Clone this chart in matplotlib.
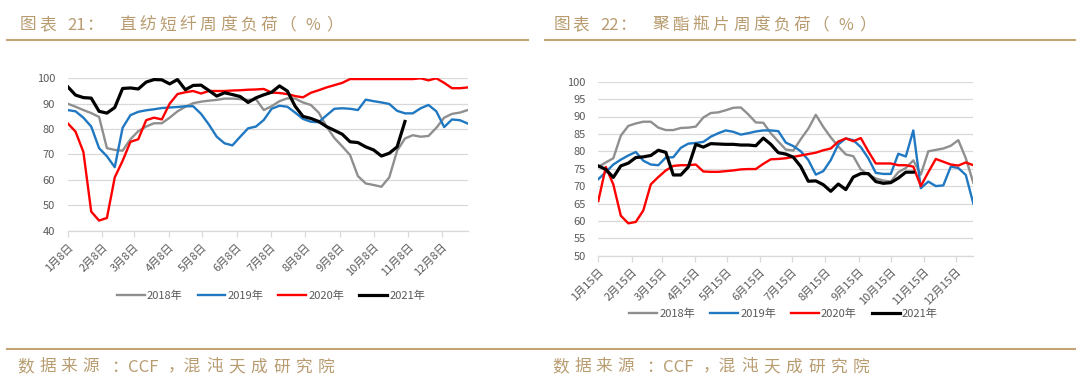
import numpy as np
import pandas as pd
import matplotlib
matplotlib.use('Agg')
import matplotlib.pyplot as plt

plt.rcParams['font.family'] = ['Noto Sans CJK SC', 'DejaVu Sans']

# ---------------- 数据 ----------------
# 图表21：直纺短纤周度负荷（周度，1月8日起）
dates_psf = pd.date_range('2021-01-08', periods=52, freq='7D')
psf_2018 = [90, 88.8, 87.5, 86.3, 84.8, 72.5, 71.8, 71.5, 76, 79.2,
            81, 82.3, 82.3, 84.5, 87, 88.8, 90.2, 90.8, 91.2, 91.5,
            92, 92, 91.8, 91.5, 91.8, 87.5, 89, 91, 92.1, 92,
            90.5, 89.5, 86.5, 81, 76.5, 73.2, 69.8, 61.5, 58.6, 58,
            57.3, 61, 71.5, 76.3, 77.6, 77, 77.3, 80.5, 84.5, 86,
            86.5, 87.5]
psf_2019 = [87.5, 87, 84.5, 81, 72.5, 69.3, 65, 80.5, 85.5, 86.8,
            87.4, 87.8, 88.3, 88.5, 88.7, 89, 89, 86, 81.8, 77,
            74.4, 73.6, 77, 80.3, 81, 83.6, 88, 89.2, 88.8, 86.5,
            84, 82.9, 82.7, 85.4, 88, 88.2, 88, 87.5, 91.6, 91,
            90.5, 89.9, 87.2, 86.2, 86.2, 88.2, 89.5, 87, 80.8, 83.8,
            83.5, 82.2]
psf_2020 = [82.3, 79, 71, 47.5, 44, 45, 61, 67.5, 75, 76,
            83.5, 84.5, 83.8, 90, 93.8, 94.5, 95, 94, 95, 95,
            95, 95.2, 95.3, 95.5, 95.6, 95.8, 94.4, 94.2, 93.8, 93,
            92.5, 94.3, 95.3, 96.4, 97.3, 98.2, 99.7, 99.7, 99.7, 99.7,
            99.7, 99.7, 99.7, 99.7, 99.7, 100, 99.2, 100, 98.2, 96.1,
            96.1, 96.4]
psf_2021 = [96.7, 93.4, 92.4, 92.2, 87, 86.3, 88.5, 96, 96.2, 95.8,
            98.5, 99.5, 99.4, 97.8, 99.5, 95.5, 97.2, 97.3, 95.2, 93,
            94.3, 93.6, 92.8, 90.5, 92.3, 93.5, 94.5, 97, 95, 89,
            85, 84.2, 83, 81, 79.5, 78, 75, 74.7, 73, 71.8,
            69.4, 70.5, 73, 83]
psf_ticks = [pd.Timestamp(2021, m, 8) for m in range(1, 13)]
psf_labels = [f'{m}月8日' for m in range(1, 13)]

# 图表22：聚酯瓶片周度负荷（周度，1月15日起）
dates_pet = pd.date_range('2021-01-15', periods=51, freq='7D')
pet_2018 = [75.5, 76.8, 78, 84.5, 87.3, 88, 88.5, 88.5, 86.8, 86.1,
            86.1, 86.7, 86.8, 87.1, 89.7, 91, 91.2, 91.8, 92.5, 92.6,
            90.6, 88.3, 88.2, 85.2, 82.8, 80.5, 80.2, 83.5, 86.5, 90.5,
            87, 84, 81.4, 79.1, 78.6, 74.8, 73.3, 72.2, 71.6, 71.3,
            74, 75.2, 77.4, 73.3, 80, 80.4, 80.8, 81.6, 83.2, 78,
            71]
pet_2019 = [72, 74, 76.2, 77.6, 78.8, 79.8, 77.3, 76.2, 76, 78.2,
            78.3, 81, 82.2, 82.4, 82.7, 84.2, 85.2, 86, 85.6, 84.8,
            85.2, 85.7, 86, 86, 85.8, 82.5, 81.5, 80, 77.5, 73.3,
            74.3, 77.5, 82, 83.7, 83.2, 81.2, 78, 73.8, 73.5, 73.5,
            79.3, 78.5, 86, 69.4, 71.3, 70, 70.2, 75.6, 75.2, 73.2,
            65]
pet_2020 = [65.7, 75.5, 70.5, 61.5, 59.3, 59.7, 63, 70.5, 72.6, 74.5,
            75.8, 76, 76, 76.2, 74.2, 74.1, 74.1, 74.3, 74.5, 74.8,
            74.9, 74.9, 76.4, 77.7, 77.8, 78, 78.4, 78.8, 79.2, 79.6,
            80.3, 80.8, 82.8, 83.7, 82.9, 83.8, 80, 76.5, 76.5, 76.5,
            76, 76, 75.6, 70, 74, 77.8, 77, 76.2, 75.9, 76.8,
            76]
pet_2021 = [75.8, 74.8, 72.5, 75.8, 76.6, 78.2, 78.4, 78.8, 80.3, 79.7,
            73.2, 73.2, 75.5, 82, 81.2, 82.2, 82.1, 82, 82, 81.8,
            81.8, 81.6, 83.8, 82, 79.6, 79.2, 78.3, 75.6, 71.4, 71.5,
            70.4, 68.5, 70.6, 69, 72.6, 73.6, 73.6, 71.3, 70.8, 71,
            72.3, 74, 74]
pet_ticks = [pd.Timestamp(2021, m, 15) for m in range(1, 13)]
pet_labels = [f'{m}月15日' for m in range(1, 13)]

years = ['2018年', '2019年', '2020年', '2021年']
colors = ['#8f8f8f', '#1f78c1', '#ff0000', '#000000']
widths = [1.7, 1.7, 1.7, 2.3]

W, H = 1080, 376
TAN = '#b89c70'
LINE_TAN = '#c3a475'

fig = plt.figure(figsize=(W / 100, H / 100), dpi=100)


def fx(px):
    return px / W


def fy(py):
    return 1 - py / H


def chars(x, y, s, pitch, size=12, color=TAN):
    # 逐字放置，模拟原图较宽的字距
    for k, c in enumerate(s):
        fig.text(fx(x + k * pitch), fy(y), c, ha='center', va='center',
                 fontsize=size, color=color)


def title(x0, num, name):
    y = 25
    chars(x0 + 7, y, '图表', 19)
    fig.text(fx(x0 + 55), fy(y), num, ha='center', va='center', fontsize=12, color=TAN)
    chars(x0 + 73, y, '：', 0)
    chars(x0 + 106, y, name, 20.2)
    chars(x0 + 266, y, '（', 0)
    fig.text(fx(x0 + 291.5), fy(y), '%', ha='center', va='center', fontsize=11.5, color=TAN)
    chars(x0 + 313, y, '）', 0)


def source(x0):
    y = 367
    chars(x0 + 7.8, y, '数据来源', 21.7)
    chars(x0 + 101, y, '：', 0)
    fig.text(fx(x0 + 125.3), fy(y), 'CCF', ha='center', va='center', fontsize=12, color=TAN)
    fig.text(fx(x0 + 149.5), fy(y), '，混', ha='left', va='center', fontsize=12, color=TAN)
    chars(x0 + 196.7, y, '沌天成研究院', 22.2)


def hline(y, x1, x2):
    fig.add_artist(plt.Line2D([fx(x1), fx(x2)], [fy(y), fy(y)], color=LINE_TAN, lw=1.5))


def draw_chart(rect, dates, series, ylim, ystep, ticks, labels, xlim, leg_xy):
    ax = fig.add_axes(rect)
    for vals, name, c, lw in zip(series, years, colors, widths):
        ax.plot(dates[:len(vals)], vals, color=c, lw=lw, label=name, solid_joinstyle='round')
    ax.set_ylim(*ylim)
    ax.set_yticks(np.arange(ylim[0], ylim[1] + 1, ystep))
    ax.set_xlim(*xlim)
    ax.set_xticks(ticks)
    ax.set_xticklabels(labels, rotation=45, ha='right', rotation_mode='anchor')
    ax.yaxis.grid(True, color='#d9d9d9', lw=0.9)
    ax.set_axisbelow(True)
    for s in ['top', 'left', 'right']:
        ax.spines[s].set_visible(False)
    ax.spines['bottom'].set_color('#d9d9d9')
    ax.spines['bottom'].set_linewidth(0.9)
    ax.tick_params(axis='y', length=0, pad=9, labelsize=8, labelcolor='#595959')
    ax.tick_params(axis='x', length=4, width=0.9, color='#d9d9d9', pad=4,
                   labelsize=8, labelcolor='#595959')
    ax.legend(loc='center', bbox_to_anchor=leg_xy, bbox_transform=fig.transFigure,
              ncol=4, frameon=False, fontsize=8, handlelength=2.5, handletextpad=0.2,
              columnspacing=1.35, labelcolor='#595959')
    return ax


draw_chart([fx(67.7), fy(230.7), 400 / W, 152.4 / H], dates_psf,
           [psf_2018, psf_2019, psf_2020, psf_2021], (40, 100), 10,
           psf_ticks, psf_labels,
           (pd.Timestamp(2021, 1, 8), pd.Timestamp(2021, 12, 31)),
           (fx(271), fy(296)))

draw_chart([fx(598.3), fy(255.7), 375 / W, 174 / H], dates_pet,
           [pet_2018, pet_2019, pet_2020, pet_2021], (50, 100), 5,
           pet_ticks, pet_labels,
           (pd.Timestamp(2021, 1, 15), pd.Timestamp(2021, 12, 31)),
           (fx(783.5), fy(314)))

title(21.4, '21', '直纺短纤周度负荷')
title(554.5, '22', '聚酯瓶片周度负荷')
hline(39.5, 7, 528)
hline(39.5, 545, 1075)
hline(349, 7, 1075)
source(18)
source(553)

fig.savefig('out.png', dpi=100)
